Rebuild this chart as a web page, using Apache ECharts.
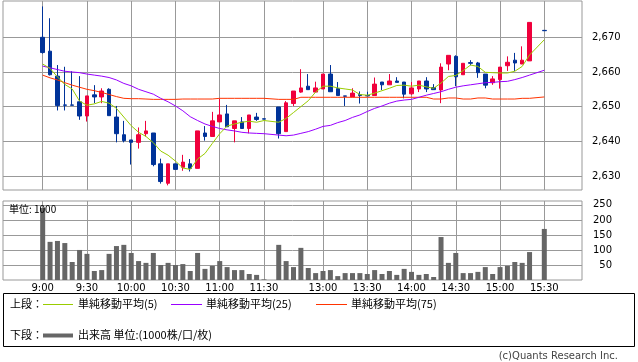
<!DOCTYPE html>
<html><head><meta charset="utf-8">
<script src="https://cdn.jsdelivr.net/npm/echarts@6/dist/echarts.min.js"></script>
<style>html,body{margin:0;padding:0;background:#fff}#c{width:638px;height:362px}</style>
</head><body><div id="c"></div>
<script>
// time slots (5-minute bars); '' = lunch-break slot, '15:25' has no trade
const slots = ['9:00','9:05','9:10','9:15','9:20','9:25','9:30','9:35','9:40','9:45','9:50','9:55',
  '10:00','10:05','10:10','10:15','10:20','10:25','10:30','10:35','10:40','10:45','10:50','10:55',
  '11:00','11:05','11:10','11:15','11:20','11:25','11:30','',
  '12:30','12:35','12:40','12:45','12:50','12:55',
  '13:00','13:05','13:10','13:15','13:20','13:25','13:30','13:35','13:40','13:45','13:50','13:55',
  '14:00','14:05','14:10','14:15','14:20','14:25','14:30','14:35','14:40','14:45','14:50','14:55',
  '15:00','15:05','15:10','15:15','15:20','15:25','15:30'];
const tickLabels = ['9:00','9:30','10:00','10:30','11:00','11:30','13:00','13:30','14:00','14:30','15:00','15:30'];
const priceTicks = [2630, 2640, 2650, 2660, 2670];
const volTicks = [50, 100, 150, 200, 250];

const open = [2670.0,2666.0,2658.8,2650.5,2650.5,2651.4,2647.3,2653.4,2652.8,2655.0,2647.0,2641.9,
  2640.4,2639.7,2642.2,2642.4,2633.5,2627.9,2633.5,2632.5,2633.5,2632.2,2642.4,2641.4,
  2645.6,2647.9,2643.7,2645.6,2643.7,2647.0,2646.5,null,
  2649.9,2642.8,2650.9,2654.2,2655.9,2654.2,
  2655.1,2659.4,2655.2,2653.1,2652.8,2653.5,2653.2,2653.2,2657.1,2656.3,2657.4,2657.1,
  2653.7,2655.1,2657.4,2655.5,2654.8,2662.3,2664.5,2659.2,2662.7,2662.6,2659.4,2656.9,
  2657.8,2661.8,2663.4,2662.3,2663.2,null,2672.0];
const close = [2665.6,2659.2,2650.3,2650.4,2650.4,2647.3,2653.1,2652.8,2654.5,2647.4,2642.2,2640.2,
  2639.7,2641.9,2643.0,2633.3,2628.4,2633.5,2631.9,2634.0,2632.2,2643.0,2641.4,2645.9,
  2647.6,2644.2,2645.9,2643.7,2647.6,2646.3,2646.4,null,
  2642.2,2651.1,2654.5,2655.4,2654.9,2655.4,
  2659.4,2654.3,2653.2,2653.0,2653.9,2653.2,2653.1,2656.5,2656.3,2657.4,2657.0,2653.6,
  2655.4,2657.4,2655.1,2654.9,2661.4,2664.8,2658.6,2662.5,2662.5,2659.8,2656.2,2658.0,
  2661.4,2662.8,2662.6,2663.4,2674.3,null,2671.9];
const low = [2665.3,2659.0,2648.9,2648.9,2650.4,2646.2,2645.7,2651.0,2651.0,2647.4,2639.7,2639.7,
  2633.3,2637.9,2641.4,2632.8,2627.8,2627.3,2631.9,2631.5,2631.3,2632.2,2640.2,2641.4,
  2645.6,2644.2,2639.7,2643.7,2642.3,2645.9,2646.4,null,
  2640.8,2642.8,2650.2,2654.0,2654.9,2654.2,
  2655.1,2654.3,2653.2,2650.2,2652.8,2650.9,2653.0,2653.2,2654.8,2656.3,2657.0,2652.4,
  2653.4,2654.2,2654.2,2654.9,2651.0,2660.5,2655.9,2659.2,2661.9,2658.3,2655.3,2656.3,
  2655.2,2660.3,2660.3,2662.3,2663.2,null,2671.9];
const high = [2678.9,2675.5,2662.0,2661.5,2660.2,2658.8,2653.1,2656.2,2655.3,2655.3,2650.2,2645.9,
  2640.4,2644.0,2645.9,2642.4,2635.0,2633.5,2633.5,2636.1,2634.9,2643.0,2644.4,2648.5,
  2652.3,2650.5,2645.9,2647.0,2647.6,2648.2,2646.5,null,
  2649.9,2651.6,2654.5,2660.8,2659.4,2657.2,
  2659.4,2662.0,2657.1,2653.1,2655.3,2654.4,2654.3,2658.4,2657.1,2659.4,2658.5,2657.1,
  2657.1,2657.4,2658.5,2656.5,2662.5,2664.8,2664.8,2662.5,2663.4,2662.9,2659.4,2658.8,
  2661.4,2664.5,2665.5,2667.4,2674.3,null,2672.0];
const ma5 = [2662.3,2661.0,2658.6,2656.4,2655.1,2651.6,2650.4,2650.8,2651.5,2651.0,2649.5,2647.0,
  2644.5,2642.6,2641.4,2639.6,2637.2,2636.0,2634.3,2632.3,2631.9,2634.9,2636.5,2639.4,
  2642.2,2644.4,2645.0,2645.5,2645.8,2645.5,2646.0,null,
  2645.5,2646.6,2648.3,2650.0,2651.7,2654.2,
  2655.9,2655.9,2655.4,2655.1,2654.8,2653.5,2653.3,2653.9,2654.6,2655.3,2656.1,2656.2,
  2655.9,2656.2,2655.7,2655.3,2656.8,2658.7,2659.0,2660.4,2662.0,2661.6,2659.9,2659.8,
  2659.7,2659.7,2660.2,2661.6,2664.9,null,2669.3];
const ma25 = [2661.7,2661.2,2660.7,2660.2,2660.0,2659.8,2659.4,2659.1,2658.8,2658.4,2657.7,2656.7,
  2656.0,2655.0,2654.3,2653.6,2652.4,2651.4,2650.2,2648.8,2647.1,2646.0,2645.0,2644.3,
  2643.7,2643.3,2643.0,2642.6,2642.4,2642.3,2642.2,null,
  2641.8,2641.6,2641.8,2642.3,2642.8,2643.5,
  2644.3,2644.6,2645.4,2646.0,2646.9,2647.6,2648.6,2649.5,2650.2,2651.0,2651.6,2651.9,
  2652.1,2652.7,2653.3,2653.8,2654.3,2655.0,2655.6,2656.0,2656.3,2656.6,2656.9,2657.0,
  2657.2,2657.3,2657.8,2658.4,2659.1,null,2660.5];
const ma75 = [2659.1,2658.3,2657.7,2656.9,2656.2,2655.6,2655.0,2654.6,2654.1,2653.5,2652.9,2652.4,
  2652.3,2652.3,2652.2,2652.1,2652.1,2652.1,2652.1,2652.2,2652.2,2652.2,2652.2,2652.2,
  2652.4,2652.4,2652.4,2652.4,2652.4,2652.4,2652.4,null,
  2652.1,2652.1,2652.1,2652.7,2652.7,2652.7,
  2652.7,2652.7,2652.7,2652.7,2652.7,2652.7,2652.7,2652.7,2652.7,2652.7,2652.7,2652.7,
  2652.7,2652.7,2652.7,2652.2,2652.2,2652.5,2652.5,2652.2,2652.2,2652.5,2652.5,2652.2,
  2652.2,2652.2,2652.2,2652.4,2652.4,null,2652.8];
const volume = [240,127,130,123,60,100,87,30,33,87,113,117,
  90,63,57,90,50,57,50,53,30,90,37,47,
  63,43,33,33,20,17,2,null,
  117,63,43,107,40,23,
  30,33,13,23,23,23,20,33,20,30,17,37,
  27,17,20,10,143,57,90,23,23,27,43,20,
  43,47,60,57,93,null,170];
const maNames = ['単純移動平均(5)', '単純移動平均(25)', '単純移動平均(75)'];
const volName = '出来高 単位:(1000株/口/枚)';
const volUnitText = '単位: 1000';
const credit = '(c)Quants Research Inc.';

const UP = '#f0003c', DOWN = '#003399';
const MA_COLORS = ['#99cc00', '#9900ff', '#ff3300'];
const GRID = '#999999';
const FONT = 'DejaVu Sans';
const JFONT = '"Noto Sans CJK JP", "DejaVu Sans", sans-serif';

const tickIdx = tickLabels.map(t => slots.indexOf(t));
const candleData = [];
slots.forEach((t, i) => { if (open[i] != null) candleData.push([i, open[i], close[i], low[i], high[i]]); });
const pairs = arr => arr.map((v, i) => [i, v]).filter(p => p[1] != null);

const XMIN = -5.38, XMAX = 73.11;
function xAx(gi, showLabel) {
  return {
    type: 'value', gridIndex: gi, min: XMIN, max: XMAX,
    axisLine: { show: false },
    axisTick: { show: false, customValues: tickIdx },
    axisLabel: { show: showLabel, customValues: tickIdx, formatter: v => slots[Math.round(v)],
      fontFamily: FONT, fontSize: 10, color: '#000', margin: 3 },
    splitLine: { show: true, lineStyle: { color: GRID, width: 1 } }
  };
}

const chart = echarts.init(document.getElementById('c'), null, { renderer: 'canvas' });
const lx = 42, ly1 = 304, ly2 = 335;
const legendEls = [
  { type: 'rect', shape: { x: 3.5, y: 293.5, width: 631, height: 53 }, style: { fill: 'none', stroke: '#000', lineWidth: 1 } },
  { type: 'text', x: 10, y: ly1, style: { text: '上段：', font: '11px ' + JFONT, fill: '#000', verticalAlign: 'middle' } },
  { type: 'text', x: 10, y: ly2, style: { text: '下段：', font: '11px ' + JFONT, fill: '#000', verticalAlign: 'middle' } },
  { type: 'line', shape: { x1: 43, y1: ly2 + 0.5, x2: 73, y2: ly2 + 0.5 }, style: { stroke: '#666', lineWidth: 4 } },
  { type: 'text', x: 78, y: ly2, style: { text: volName, font: '11px ' + JFONT, fill: '#000', verticalAlign: 'middle' } },
  { type: 'text', x: 618, y: 356, style: { text: credit, font: '10px ' + FONT, fill: '#444', align: 'right', verticalAlign: 'middle' } },
  { type: 'text', x: 9, y: 209, z: 100, style: { text: volUnitText, font: '10px ' + JFONT, fill: '#000', verticalAlign: 'middle' } }
];
const legX = [[43, 73, 78], [171, 202, 206], [316, 347, 351]];
maNames.forEach((n, k) => {
  legendEls.push({ type: 'line', shape: { x1: legX[k][0], y1: ly1 + 0.5, x2: legX[k][1], y2: ly1 + 0.5 }, style: { stroke: MA_COLORS[k], lineWidth: 1 } });
  legendEls.push({ type: 'text', x: legX[k][2], y: ly1, style: { text: n, font: '11px ' + JFONT, fill: '#000', verticalAlign: 'middle' } });
});

chart.setOption({
  animation: false,
  backgroundColor: '#fff',
  grid: [
    { left: 3, top: 1, width: 579, height: 189, show: true, borderColor: GRID, borderWidth: 1 },
    { left: 3, top: 201, width: 579, height: 79, show: true, borderColor: GRID, borderWidth: 1 }
  ],
  xAxis: [xAx(0, false), xAx(1, true)],
  yAxis: [
    { type: 'value', gridIndex: 0, position: 'right', min: 2625.96, max: 2680.47,
      axisLine: { show: false },
      axisTick: { show: true, length: 5, customValues: priceTicks, lineStyle: { color: GRID } },
      axisLabel: { customValues: priceTicks, formatter: v => Number(v).toLocaleString('en-US'),
        fontFamily: FONT, fontSize: 10, color: '#000', margin: 10 },
      splitLine: { show: true, lineStyle: { color: GRID, width: 1 } } },
    { type: 'value', gridIndex: 1, position: 'right', min: 0, max: 263,
      axisLine: { show: false },
      axisTick: { show: true, length: 5, customValues: volTicks, lineStyle: { color: GRID } },
      axisLabel: { customValues: volTicks, fontFamily: FONT, fontSize: 10, color: '#000', margin: 30, align: 'right' },
      splitLine: { show: true, lineStyle: { color: GRID, width: 1 } } }
  ],
  series: [
    { type: 'candlestick', xAxisIndex: 0, yAxisIndex: 0, data: candleData,
      encode: { x: 0, y: [1, 2, 3, 4] }, barWidth: 4,
      itemStyle: { color: UP, color0: DOWN, borderColor: UP, borderColor0: DOWN, borderWidth: 1 } },
    { type: 'line', xAxisIndex: 0, yAxisIndex: 0, data: pairs(ma75), symbol: 'none', lineStyle: { color: MA_COLORS[2], width: 1 } },
    { type: 'line', xAxisIndex: 0, yAxisIndex: 0, data: pairs(ma25), symbol: 'none', lineStyle: { color: MA_COLORS[1], width: 1 } },
    { type: 'line', xAxisIndex: 0, yAxisIndex: 0, data: pairs(ma5), symbol: 'none', lineStyle: { color: MA_COLORS[0], width: 1 } },
    { type: 'bar', xAxisIndex: 1, yAxisIndex: 1, data: pairs(volume), barWidth: 5, itemStyle: { color: '#666666' } }
  ],
  graphic: legendEls
});
</script></body></html>
